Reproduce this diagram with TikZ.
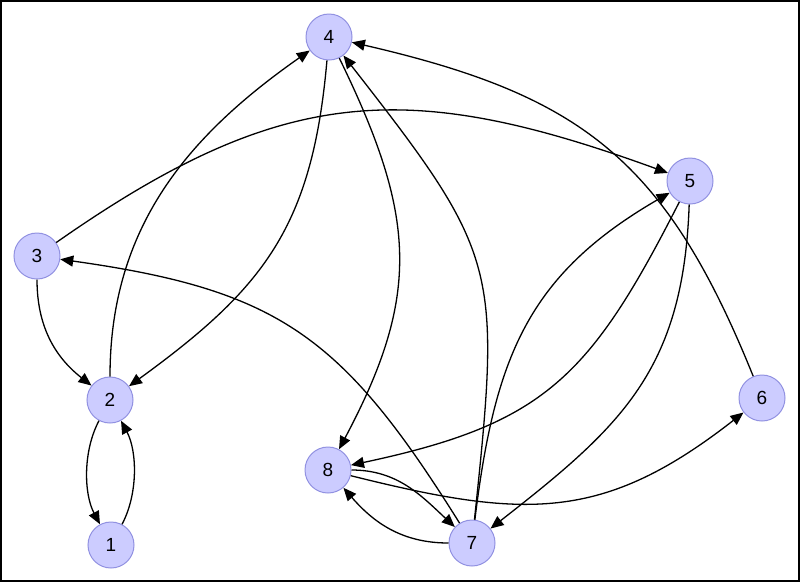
\documentclass[tikz,border=0pt]{standalone}
\usepackage{fontspec}
\setmainfont{Liberation Sans}
\usetikzlibrary{arrows.meta}
\definecolor{vfill}{RGB}{204,204,255}
\definecolor{vline}{RGB}{145,145,225}
\tikzset{
  vertex/.style={circle, draw=vline, fill=vfill, line width=1pt, minimum size=46pt, inner sep=0pt, font=\fontsize{19}{21}\selectfont},
  edge/.style={line width=1.3pt, -{Triangle[length=13pt,width=11pt]}}
}
\begin{document}
\begin{tikzpicture}[x=1pt,y=-1pt]
\useasboundingbox (0,0) rectangle (800,582);
\draw[line width=2pt] (1,1) rectangle (799,581);
% vertices
\foreach \n/\x/\y in {1/111/545, 2/110/400, 3/37/256, 4/329/37, 5/690/181, 6/762/398, 7/472/543, 8/328/470}
    \node[vertex] (v\n) at (\x,\y) {\n};
% edges
\foreach \a/\b/\o/\i/\l in {1/2/62/-62/0.85, 2/1/-118/118/0.85, 3/2/-90/142/1.0, 2/4/90/-145/1.0,
    4/2/-95/36/1.12, 3/5/35/160/1.15, 7/3/122/-8/1.18, 7/4/84/-52/1.35, 4/8/-64/62/1.15,
    6/4/112/-13/1.15, 7/5/83/-150/1.1, 5/8/-117/12/1.2, 5/7/-92/38/1.12,
    8/7/0/137/1.0, 8/6/-14/-142/1.15, 7/8/180/-49/1.0}
    \draw[edge] (v\a) to[out=\o,in=\i,looseness=\l] (v\b);
\end{tikzpicture}
\end{document}
